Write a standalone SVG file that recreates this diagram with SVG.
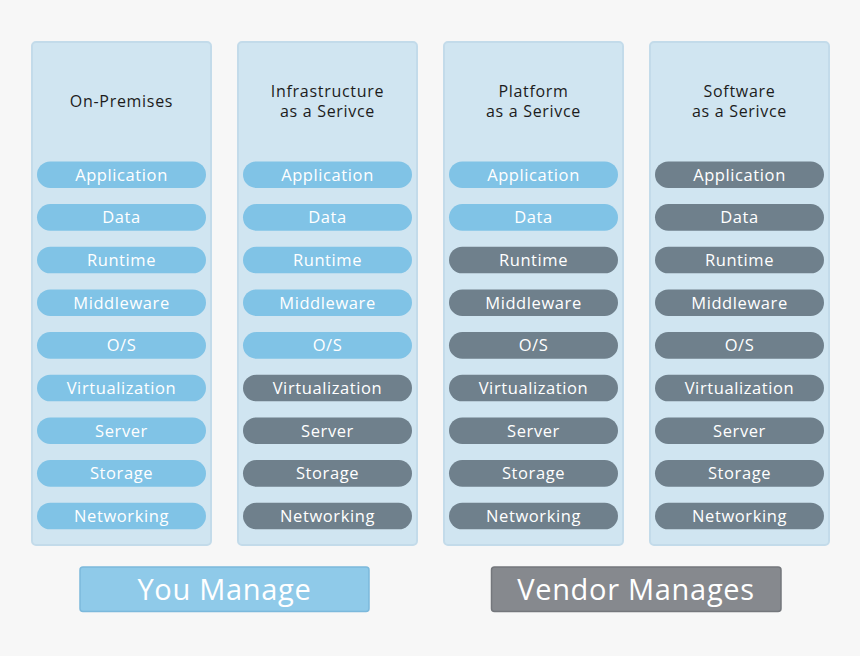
<svg xmlns="http://www.w3.org/2000/svg" width="860" height="656" viewBox="0 0 860 656">
<style>
.col{fill:#d0e5f1;stroke:#c3dbea;stroke-width:2}
.lt{fill:#80c3e6}
.dk{fill:#6f808c}
.pt{font-family:"Open Sans","DejaVu Sans",sans-serif;font-size:16.5px;fill:#ffffff;text-anchor:middle;letter-spacing:0.6px}
.tt{font-family:"Open Sans","DejaVu Sans",sans-serif;font-size:16px;fill:#1c1c1c;text-anchor:middle;letter-spacing:0.7px}
.lg{font-family:"Open Sans","DejaVu Sans",sans-serif;font-size:29px;fill:#ffffff;text-anchor:middle;letter-spacing:0.7px}
</style>
<defs>
<rect id="p" x="0" y="-13.3" width="169" height="26.6" rx="13.3"/>
</defs>
<rect width="860" height="656" fill="#f7f7f7"/>

<g id="on-premises">
<rect class="col" x="32" y="42" width="179" height="503" rx="4"/>
<text class="tt" x="121.5" y="107">On-Premises</text>
<g transform="translate(37,0)">
<use href="#p" y="174.7" class="lt"/><use href="#p" y="217.4" class="lt"/><use href="#p" y="260" class="lt"/>
<use href="#p" y="302.7" class="lt"/><use href="#p" y="345.4" class="lt"/><use href="#p" y="388" class="lt"/>
<use href="#p" y="430.7" class="lt"/><use href="#p" y="473.4" class="lt"/><use href="#p" y="516" class="lt"/>
</g>
<g transform="translate(121.5,0)">
<text class="pt" y="180.5">Application</text><text class="pt" y="223.2">Data</text><text class="pt" y="265.8">Runtime</text>
<text class="pt" y="308.5">Middleware</text><text class="pt" y="351.2">O/S</text><text class="pt" y="393.8">Virtualization</text>
<text class="pt" y="436.5">Server</text><text class="pt" y="479.2">Storage</text><text class="pt" y="521.8">Networking</text>
</g>
</g>

<g id="iaas">
<rect class="col" x="238" y="42" width="179" height="503" rx="4"/>
<text class="tt" x="327.5" y="97">Infrastructure</text>
<text class="tt" x="327.5" y="117">as a Serivce</text>
<g transform="translate(243,0)">
<use href="#p" y="174.7" class="lt"/><use href="#p" y="217.4" class="lt"/><use href="#p" y="260" class="lt"/>
<use href="#p" y="302.7" class="lt"/><use href="#p" y="345.4" class="lt"/><use href="#p" y="388" class="dk"/>
<use href="#p" y="430.7" class="dk"/><use href="#p" y="473.4" class="dk"/><use href="#p" y="516" class="dk"/>
</g>
<g transform="translate(327.5,0)">
<text class="pt" y="180.5">Application</text><text class="pt" y="223.2">Data</text><text class="pt" y="265.8">Runtime</text>
<text class="pt" y="308.5">Middleware</text><text class="pt" y="351.2">O/S</text><text class="pt" y="393.8">Virtualization</text>
<text class="pt" y="436.5">Server</text><text class="pt" y="479.2">Storage</text><text class="pt" y="521.8">Networking</text>
</g>
</g>

<g id="paas">
<rect class="col" x="444" y="42" width="179" height="503" rx="4"/>
<text class="tt" x="533.5" y="97">Platform</text>
<text class="tt" x="533.5" y="117">as a Serivce</text>
<g transform="translate(449,0)">
<use href="#p" y="174.7" class="lt"/><use href="#p" y="217.4" class="lt"/><use href="#p" y="260" class="dk"/>
<use href="#p" y="302.7" class="dk"/><use href="#p" y="345.4" class="dk"/><use href="#p" y="388" class="dk"/>
<use href="#p" y="430.7" class="dk"/><use href="#p" y="473.4" class="dk"/><use href="#p" y="516" class="dk"/>
</g>
<g transform="translate(533.5,0)">
<text class="pt" y="180.5">Application</text><text class="pt" y="223.2">Data</text><text class="pt" y="265.8">Runtime</text>
<text class="pt" y="308.5">Middleware</text><text class="pt" y="351.2">O/S</text><text class="pt" y="393.8">Virtualization</text>
<text class="pt" y="436.5">Server</text><text class="pt" y="479.2">Storage</text><text class="pt" y="521.8">Networking</text>
</g>
</g>

<g id="saas">
<rect class="col" x="650" y="42" width="179" height="503" rx="4"/>
<text class="tt" x="739.5" y="97">Software</text>
<text class="tt" x="739.5" y="117">as a Serivce</text>
<g transform="translate(655,0)">
<use href="#p" y="174.7" class="dk"/><use href="#p" y="217.4" class="dk"/><use href="#p" y="260" class="dk"/>
<use href="#p" y="302.7" class="dk"/><use href="#p" y="345.4" class="dk"/><use href="#p" y="388" class="dk"/>
<use href="#p" y="430.7" class="dk"/><use href="#p" y="473.4" class="dk"/><use href="#p" y="516" class="dk"/>
</g>
<g transform="translate(739.5,0)">
<text class="pt" y="180.5">Application</text><text class="pt" y="223.2">Data</text><text class="pt" y="265.8">Runtime</text>
<text class="pt" y="308.5">Middleware</text><text class="pt" y="351.2">O/S</text><text class="pt" y="393.8">Virtualization</text>
<text class="pt" y="436.5">Server</text><text class="pt" y="479.2">Storage</text><text class="pt" y="521.8">Networking</text>
</g>
</g>

<g id="legend-you">
<rect x="80" y="567" width="289" height="44.5" rx="3" fill="#8fcae9" stroke="#7cb9dc" stroke-width="1.5"/>
<text class="lg" x="224.5" y="599.5">You Manage</text>
</g>
<g id="legend-vendor">
<rect x="491.5" y="567" width="289.5" height="44.5" rx="3" fill="#86898e" stroke="#74777c" stroke-width="1.5"/>
<text class="lg" x="636" y="599.5">Vendor Manages</text>
</g>
<g id="connectors"/>
</svg>
